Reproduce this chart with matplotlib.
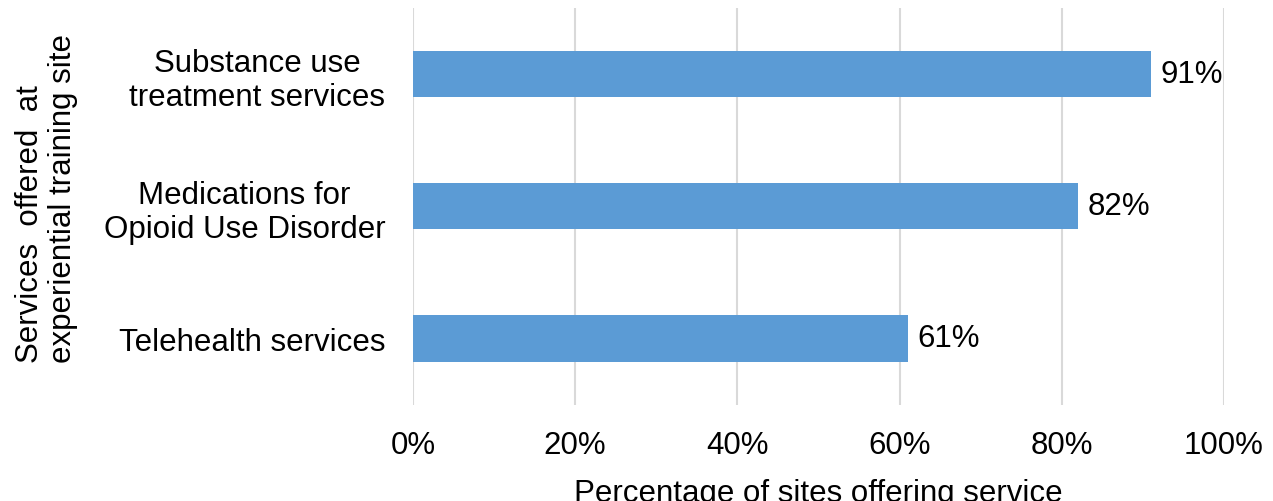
import matplotlib.pyplot as plt

plt.rcParams["font.family"] = ["Liberation Sans", "DejaVu Sans"]

services = [
    "Substance use\ntreatment services",
    "Medications for\nOpioid Use Disorder",
    "Telehealth services",
]
pct = [91, 82, 61]
xticks = [0, 20, 40, 60, 80, 100]

fs = 22.5

fig = plt.figure(figsize=(12.73, 5.02), dpi=100)
ax = fig.add_axes([0.3244, 0.1922, 0.6371, 0.7898])

ypos = list(range(len(services)))
ax.barh(ypos, pct, height=0.35, color="#5B9BD5", zorder=2)
ax.set_ylim(len(services) - 0.5, -0.5)
ax.set_xlim(0, 100)

for y, v in zip(ypos, pct):
    ax.text(v + 1.2, y, f"{v}%", va="center", ha="left", fontsize=fs)

ax.set_yticks(ypos)
ax.set_yticklabels(services, fontsize=fs, multialignment="center")
ax.set_xticks(xticks)
ax.set_xticklabels([f"{t}%" for t in xticks], fontsize=fs)
ax.tick_params(axis="x", length=0, pad=18)
ax.tick_params(axis="y", length=0, pad=20)
ax.xaxis.grid(True, color="#D9D9D9", linewidth=1.5, zorder=0)
ax.set_axisbelow(True)
for s in ax.spines.values():
    s.set_visible(False)

ax.set_xlabel("Percentage of sites offering service", fontsize=fs, labelpad=13)
fig.text(0.0365, 1 - 363 / 502, "Services  offered  at\nexperiential training site",
         rotation=90, ha="center", va="bottom", fontsize=fs, multialignment="left",
         linespacing=1.1)

fig.savefig("out.png", dpi=100)
